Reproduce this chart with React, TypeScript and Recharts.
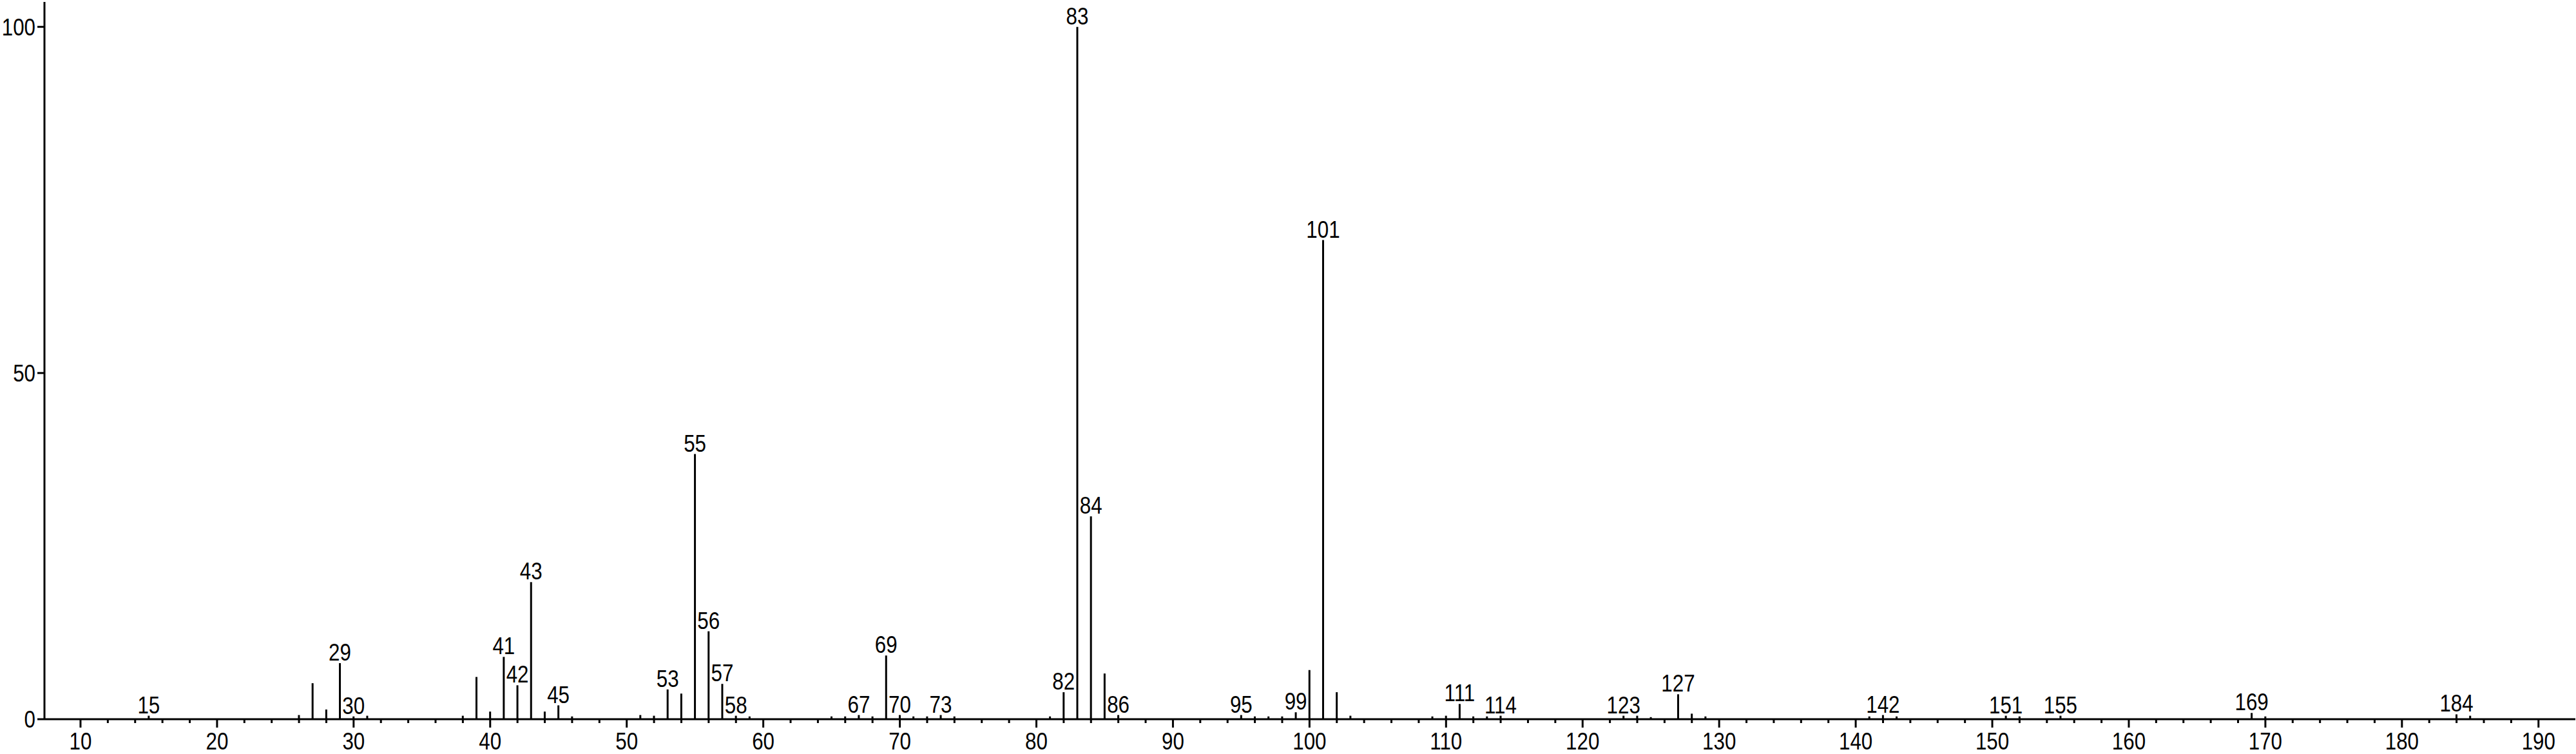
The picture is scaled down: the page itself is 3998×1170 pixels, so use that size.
import { BarChart, Bar, XAxis, YAxis, LabelList } from 'recharts'

// m/z values of the peaks
const mz = [
  15, 26, 27, 28, 29, 30, 31, 38, 39, 40, 41, 42, 43, 44, 45, 46, 51, 52, 53, 54, 55, 56, 57, 58, 59,
  65, 66, 67, 68, 69, 70, 71, 72, 73, 74, 81, 82, 83, 84, 85, 86, 95, 96, 97, 98, 99, 100, 101, 102,
  103, 109, 110, 111, 112, 113, 114, 123, 124, 125, 127, 128, 129, 141, 142, 143, 151, 152, 155, 169,
  170, 184, 185,
]

// relative intensity (%)
const intensity = [
  0.5, 0.6, 5.2, 1.4, 8.1, 0.4, 0.5, 0.5, 6.1, 1.1, 9.0, 4.9, 19.8, 1.1, 2.0, 0.4, 0.6, 0.5, 4.3, 3.7,
  38.3, 12.7, 5.1, 0.5, 0.4, 0.4, 0.4, 0.6, 0.4, 9.2, 0.6, 0.4, 0.4, 0.6, 0.4, 0.4, 3.9, 100, 29.3,
  6.6, 0.6, 0.6, 0.4, 0.4, 0.4, 1.0, 7.1, 69.2, 3.9, 0.5, 0.4, 0.5, 2.2, 0.4, 0.4, 0.5, 0.5, 0.5, 0.3,
  3.6, 0.8, 0.4, 0.4, 0.6, 0.4, 0.5, 0.4, 0.5, 0.9, 0.4, 0.7, 0.5,
]

// peaks that carry a m/z label
const labelledPeaks = [
  15, 29, 30, 41, 42, 43, 45, 53, 55, 56, 57, 58, 67, 69, 70, 73, 82, 83, 84, 86, 95, 99, 101, 111,
  114, 123, 127, 142, 151, 155, 169, 184,
]

const xTicks = [
  10, 12, 14, 16, 18, 20, 22, 24, 26, 28, 30, 32, 34, 36, 38, 40, 42, 44, 46, 48, 50, 52, 54, 56, 58,
  60, 62, 64, 66, 68, 70, 72, 74, 76, 78, 80, 82, 84, 86, 88, 90, 92, 94, 96, 98, 100, 102, 104, 106,
  108, 110, 112, 114, 116, 118, 120, 122, 124, 126, 128, 130, 132, 134, 136, 138, 140, 142, 144, 146,
  148, 150, 152, 154, 156, 158, 160, 162, 164, 166, 168, 170, 172, 174, 176, 178, 180, 182, 184, 186,
  188, 190,
]
const yTicks = [0, 50, 100]

const FONT = "'Liberation Sans', Arial, sans-serif"
// the original uses a condensed sans; squeeze Liberation Sans horizontally
const SQUEEZE = 0.87

const data = mz.map((m, i) => ({
  mz: m,
  intensity: intensity[i],
  label: labelledPeaks.includes(m) ? String(m) : '',
}))

function NarrowText({ x, y, anchor, dy, children }: any) {
  return (
    <text
      transform={`translate(${x},${y}) scale(${SQUEEZE},1)`}
      textAnchor={anchor}
      dy={dy}
      fontSize={36}
      fontFamily={FONT}
      fill="#000"
    >
      {children}
    </text>
  )
}

function XTick(props: any) {
  const { x, y, payload } = props
  const major = payload.value % 10 === 0
  return (
    <g>
      <line x1={x} x2={x} y1={y} y2={y + (major ? 13 : 6)} stroke="#000" strokeWidth={3} />
      {major && (
        <NarrowText x={x} y={y + 47} anchor="middle">
          {payload.value}
        </NarrowText>
      )}
    </g>
  )
}

function YTick(props: any) {
  const { x, y, payload } = props
  return (
    <NarrowText x={x} y={y} anchor="end" dy="0.36em">
      {payload.value}
    </NarrowText>
  )
}

function PeakLabel(props: any) {
  const { x, y, width, value } = props
  if (!value) return null
  return (
    <NarrowText x={x + width / 2} y={y - 4} anchor="middle">
      {value}
    </NarrowText>
  )
}

export default function App() {
  return (
    <div style={{ position: 'absolute', left: 0, top: 0, width: 3998, height: 1170, background: '#fff' }}>
      <BarChart width={3998} height={1170} data={data} margin={{ top: 3, right: 1, bottom: 0, left: 0 }}>
        <XAxis
          dataKey="mz"
          type="number"
          domain={[7.36, 192.7]}
          ticks={xTicks}
          interval={0}
          height={54}
          tickSize={0}
          tickMargin={0}
          tickLine={false}
          tick={<XTick />}
          axisLine={{ stroke: '#000', strokeWidth: 3 }}
        />
        <YAxis
          type="number"
          domain={[0, 103.6]}
          ticks={yTicks}
          width={69}
          tickSize={11}
          tickMargin={3}
          tickLine={{ stroke: '#000', strokeWidth: 3 }}
          axisLine={{ stroke: '#000', strokeWidth: 3 }}
          tick={<YTick />}
        />
        <Bar dataKey="intensity" fill="#000" barSize={3} isAnimationActive={false}>
          <LabelList dataKey="label" content={<PeakLabel />} />
        </Bar>
      </BarChart>
    </div>
  )
}
